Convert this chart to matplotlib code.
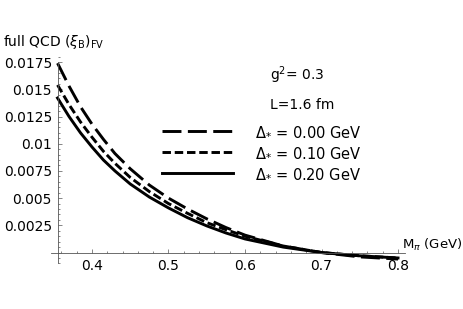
import matplotlib
matplotlib.use('Agg')
import matplotlib.pyplot as plt
from matplotlib.ticker import MultipleLocator

plt.rcParams['font.family'] = ['DejaVu Sans']
plt.rcParams['mathtext.fontset'] = 'dejavusans'

# pion mass (GeV) and finite volume corrections
m_pi = [0.355, 0.37, 0.385, 0.4, 0.415, 0.43, 0.45, 0.475, 0.5, 0.525,
        0.55, 0.575, 0.6, 0.65, 0.7, 0.75, 0.8]
xi_d000 = [0.0174, 0.0153, 0.0134, 0.0118, 0.0104, 0.0091, 0.0077, 0.0062, 0.0050,
           0.0040, 0.0031, 0.0023, 0.0016, 0.0006, 0.0000, -0.0004, -0.0006]
xi_d010 = [0.0154, 0.0136, 0.0120, 0.0106, 0.0093, 0.0082, 0.0069, 0.0056, 0.0045,
           0.0036, 0.00275, 0.0021, 0.0015, 0.0006, 0.0000, -0.0003, -0.0005]
xi_d020 = [0.0142, 0.0125, 0.0110, 0.0097, 0.0085, 0.0075, 0.0063, 0.0051, 0.0041,
           0.0032, 0.00245, 0.0018, 0.00125, 0.0005, 0.0000, -0.0003, -0.0005]

labels = [r'$\Delta_{*}$ = 0.00 GeV', r'$\Delta_{*}$ = 0.10 GeV', r'$\Delta_{*}$ = 0.20 GeV']

x_ticks = [0.4, 0.5, 0.6, 0.7, 0.8]
x_ticklabels = ['0.4', '0.5', '0.6', '0.7', '0.8']
y_ticks = [0.0025, 0.005, 0.0075, 0.01, 0.0125, 0.015, 0.0175]
y_ticklabels = ['0.0025', '0.005', '0.0075', '0.01', '0.0125', '0.015', '0.0175']

W, H = 463, 309
fig = plt.figure(figsize=(W / 100, H / 100), dpi=100)
ax = fig.add_axes([49.9 / W, 1 - 265.6 / H, (409.5 - 49.9) / W, (265.6 - 54.5) / H])

ax.plot(m_pi, xi_d000, color='black', lw=2.1, ls=(0, (6.5, 2.2)), label=labels[0])
ax.plot(m_pi, xi_d010, color='black', lw=2.1, ls=(0, (2.9, 1.3)), label=labels[1])
ax.plot(m_pi, xi_d020, color='black', lw=2.1, label=labels[2])

ax.set_xlim(0.345, 0.815)
ax.set_ylim(-0.0012, 0.0182)

# Mathematica style axes crossing at (0.355, 0)
axis_col = '#555555'
for s in ['top', 'right']:
    ax.spines[s].set_visible(False)
ax.spines['left'].set_position(('data', 0.355))
ax.spines['bottom'].set_position(('data', 0.0))
ax.spines['left'].set_bounds(-0.00097, 0.0175)
ax.spines['bottom'].set_bounds(0.346, 0.809)
for s in ['left', 'bottom']:
    ax.spines[s].set_color(axis_col)
    ax.spines[s].set_linewidth(0.6)

ax.set_xticks(x_ticks)
ax.set_xticklabels(x_ticklabels)
ax.set_yticks(y_ticks)
ax.set_yticklabels(y_ticklabels)
ax.xaxis.set_minor_locator(MultipleLocator(0.02))
ax.yaxis.set_minor_locator(MultipleLocator(0.0005))
ax.tick_params(which='both', direction='in', color=axis_col, width=0.5,
               labelsize=10, labelcolor='black')
ax.tick_params(which='major', length=3)
ax.tick_params(which='minor', length=1.6)
ax.tick_params(axis='x', pad=5)
ax.tick_params(axis='y', pad=4)

fig.text(3 / W, 1 - 42 / H, r'full QCD ($\xi_{\rm B}$)$_{\rm FV}$', fontsize=10,
         va='center', ha='left')
fig.text(402 / W, 1 - 245 / H, r'M$_{\pi}$ (GeV)', fontsize=9.5, va='center', ha='left')
fig.text(270 / W, 1 - 75 / H, r'g$^{2}$= 0.3', fontsize=10, va='center', ha='left')
fig.text(270 / W, 1 - 105 / H, 'L=1.6 fm', fontsize=10, va='center', ha='left')

ax.legend(loc='upper left', bbox_to_anchor=(162 / W, 1 - 124 / H),
          bbox_transform=fig.transFigure, frameon=False, fontsize=10.5,
          handlelength=4.9, handletextpad=1.5, labelspacing=0.4,
          borderpad=0, borderaxespad=0)

fig.savefig('out.png', dpi=100)
